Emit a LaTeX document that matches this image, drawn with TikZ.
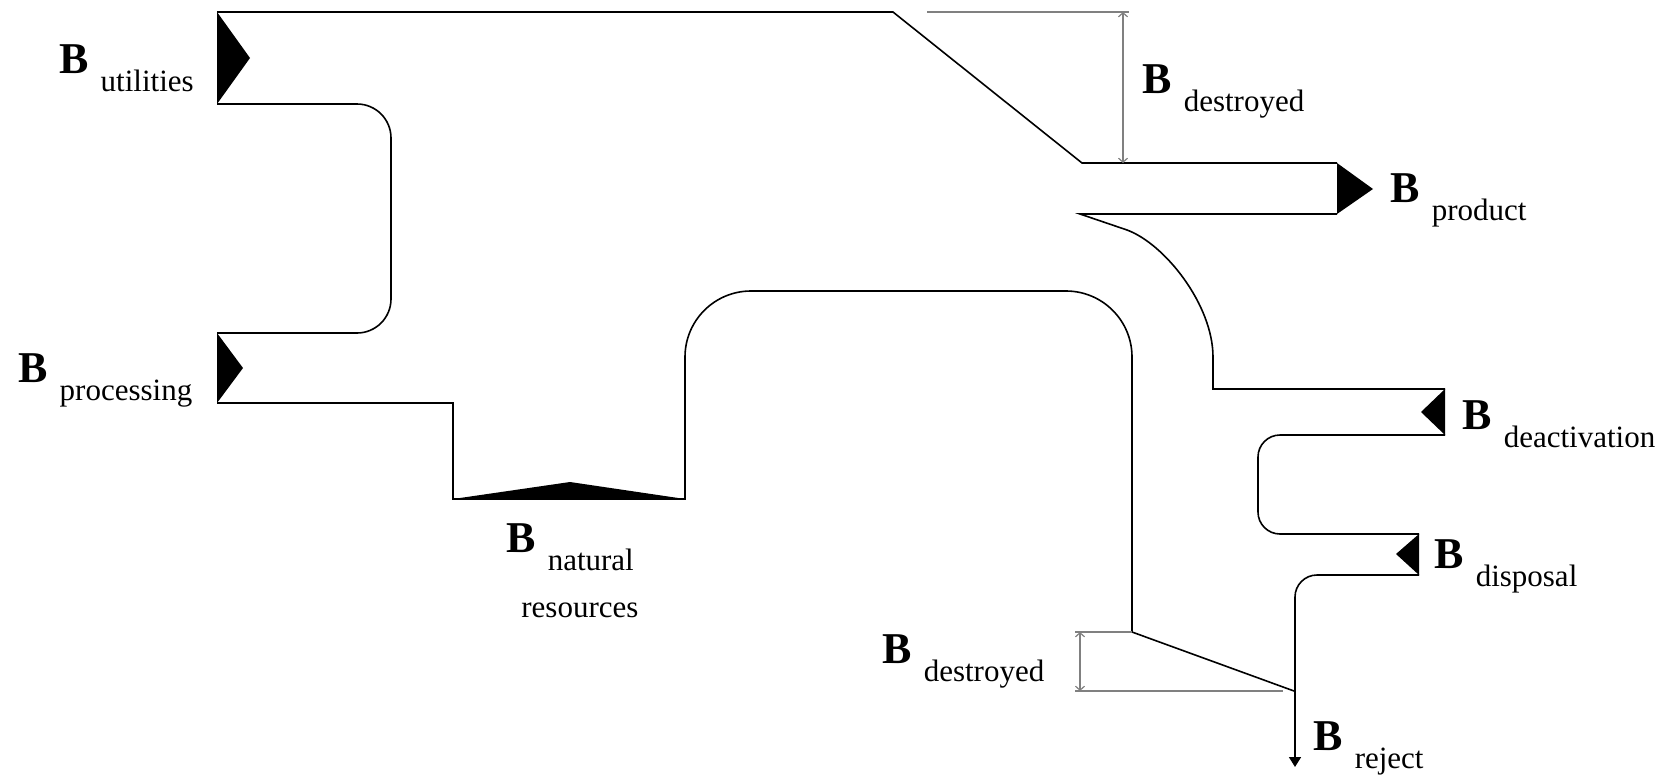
\documentclass[tikz,border=0pt]{standalone}
\usepackage{fontspec}
\setmainfont{Liberation Serif}
\usetikzlibrary{arrows.meta}

% bold B with its lowered name
\newcommand{\Bsub}[1]{{\fontsize{22pt}{22pt}\selectfont\bfseries B}\hspace{6pt}\raisebox{-9pt}{\fontsize{15.5pt}{16pt}\selectfont #1}}

\begin{document}
\begin{tikzpicture}[x=0.5pt, y=-0.5pt,
    flow/.style={line width=0.8pt, line join=miter},
    dim/.style={gray, line width=0.6pt},
    dimarrow/.style={dim, {Straight Barb[length=2pt,width=4.5pt]}-{Straight Barb[length=2pt,width=4.5pt]}},
    lbl/.style={inner sep=0pt, anchor=base west}]
  \useasboundingbox (0,0) rectangle (1677,777);

  % inputs and outputs
  \fill (217,12) -- (250,58) -- (217,104) -- cycle;
  \fill (217,333) -- (243,368) -- (217,403) -- cycle;
  \fill (453,499) -- (570,482) -- (685,499) -- cycle;
  \fill (1337,163) -- (1373,189) -- (1337,214) -- cycle;
  \fill (1445,389) -- (1421,412) -- (1445,435) -- cycle;
  \fill (1419,534) -- (1396,554) -- (1419,575) -- cycle;

  % outline of the flows
  \draw[flow] (217,12) -- (893,12) -- (1082,163) -- (1337,163);
  \draw[flow, rounded corners=17pt] (217,104) -- (391,104) -- (391,333) -- (217,333);
  \draw[flow] (217,403) -- (453,403) -- (453,499) -- (685,499)
    [rounded corners=33pt] -- (685,291) -- (1132,291)
    [sharp corners] -- (1132,632) -- (1294,691);
  \draw[flow] (1337,214) -- (1080,214) -- (1127,230)
    .. controls (1165,244) and (1213,305) .. (1213,357) -- (1213,389) -- (1445,389);
  \draw[flow, rounded corners=11pt] (1445,435) -- (1258,435) -- (1258,534) -- (1419,534);
  \draw[flow, rounded corners=11pt, -{Triangle[length=5pt,width=6pt]}] (1419,575) -- (1295,575) -- (1295,767);

  % destroyed parts
  \draw[dim] (927,12) -- (1129,12);
  \draw[dimarrow] (1123,12) -- (1123,163);
  \draw[dim] (1075,632) -- (1132,632);
  \draw[dim] (1075,691) -- (1283,691);
  \draw[dimarrow] (1080,632) -- (1080,691);

  % labels
  \node (utilities) at (59,73) [lbl] {\Bsub{utilities}};
  \node (processing) at (18,382) [lbl] {\Bsub{processing}};
  \node (natural) at (506,552) [lbl] {\Bsub{natural}};
  \node (resources) at (521,617) [lbl] {\fontsize{15.5pt}{16pt}\selectfont resources};
  \node (destroyedtop) at (1142,93) [lbl] {\Bsub{destroyed}};
  \node (product) at (1390,202) [lbl] {\Bsub{product}};
  \node (deactivation) at (1462,429) [lbl] {\Bsub{deactivation}};
  \node (disposal) at (1434,568) [lbl] {\Bsub{disposal}};
  \node (destroyedlow) at (882,663) [lbl] {\Bsub{destroyed}};
  \node (reject) at (1313,750) [lbl] {\Bsub{reject}};
\end{tikzpicture}
\end{document}
